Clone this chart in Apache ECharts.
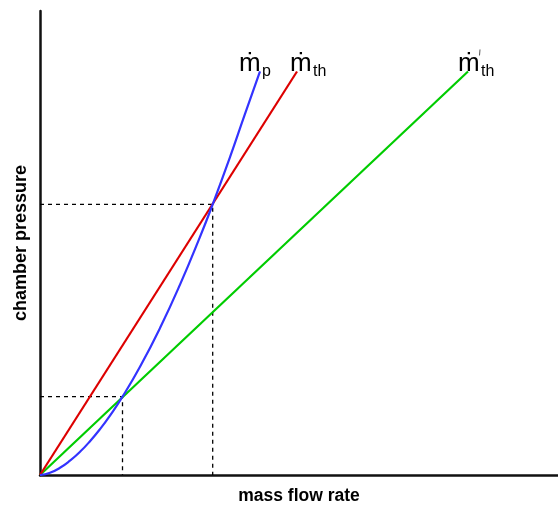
<!DOCTYPE html>
<html>
<head>
<meta charset="utf-8">
<script src="https://cdn.jsdelivr.net/npm/echarts@6/dist/echarts.min.js"></script>
<style>
  html, body { margin: 0; padding: 0; background: #fff; }
  #chart { width: 558px; height: 510px; }
</style>
</head>
<body>
<div id="chart"></div>
<script>
// Mass flow rate vs chamber pressure (arbitrary units)
const thrustLineA = [[0, 0], [257, 407]];          // m_th
const thrustLineB = [[0, 0], [428, 407]];          // m'_th
const propellantCurve = [                           // m_p
  [0, 0], [10, 2.3], [20, 7.3], [30, 14.5], [40, 23.4], [50, 34.1],
  [60, 46.3], [70, 60.0], [82.5, 79], [100, 109.1], [120, 148.2],
  [140, 192.0], [160, 240.2], [172.7, 273], [190, 320.6], [205, 364.2],
  [220, 407]
];
// Operating points (intersections)
const opHigh = [172.7, 273];
const opLow = [82.5, 79];

const axisNames = { x: 'mass flow rate', y: 'chamber pressure' };

const FONT = '"Liberation Sans", Arial, Helvetica, sans-serif';
const chart = echarts.init(document.getElementById('chart'));

function dashed(pt) {
  return {
    type: 'line',
    data: [[0, pt[1]], [pt[0], pt[1]], [pt[0], 0]],
    symbol: 'none',
    silent: true,
    z: 1,
    lineStyle: { color: '#000', width: 1.3, type: [4, 4] }
  };
}

chart.setOption({
  animation: false,
  grid: { left: 40, right: 0, top: 11, bottom: 31 },
  xAxis: {
    type: 'value', min: 0, max: 518,
    name: axisNames.x, nameLocation: 'middle', nameGap: 12,
    nameTextStyle: { fontFamily: FONT, fontWeight: 'bold', fontSize: 17.5, color: '#000' },
    axisLine: { show: true, lineStyle: { color: '#111', width: 2.5 } },
    axisTick: { show: false }, axisLabel: { show: false }, splitLine: { show: false }
  },
  yAxis: {
    type: 'value', min: 0, max: 468,
    name: axisNames.y, nameLocation: 'middle', nameGap: 10,
    nameTextStyle: { fontFamily: FONT, fontWeight: 'bold', fontSize: 18, color: '#000' },
    axisLine: { show: true, lineStyle: { color: '#111', width: 2.5 } },
    axisTick: { show: false }, axisLabel: { show: false }, splitLine: { show: false }
  },
  series: [
    dashed(opHigh),
    dashed(opLow),
    { type: 'line', data: thrustLineB, symbol: 'none', z: 3,
      lineStyle: { color: '#00cc00', width: 2.2 } },
    { type: 'line', data: thrustLineA, symbol: 'none', z: 4,
      lineStyle: { color: '#dd0000', width: 2.2 } },
    { type: 'line', data: propellantCurve, symbol: 'none', smooth: true, z: 5,
      lineStyle: { color: '#3333ff', width: 2.2 } }
  ]
});

// Curve labels placed next to each curve's end point
function labelAt(endPt, mDx, subDx, sub, prime) {
  const p = chart.convertToPixel({ gridIndex: 0 }, endPt);
  const els = [
    { type: 'text', x: p[0] + mDx, y: p[1] - 8,
      style: { text: '\u1E41', font: '26px ' + FONT, fill: '#000', verticalAlign: 'middle' } },
    { type: 'text', x: p[0] + subDx, y: p[1],
      style: { text: sub, font: '16px ' + FONT, fill: '#000', verticalAlign: 'middle' } }
  ];
  if (prime) {
    els.push({ type: 'line', silent: true,
      shape: { x1: p[0] + 12, y1: p[1] - 22, x2: p[0] + 11.5, y2: p[1] - 16 },
      style: { stroke: '#555', lineWidth: 1 } });
  }
  return els;
}

chart.setOption({
  graphic: [].concat(
    labelAt(propellantCurve[propellantCurve.length - 1], -21, 2, 'p', false),
    labelAt(thrustLineA[1], -7, 16, 'th', false),
    labelAt(thrustLineB[1], -10, 13, 'th', true)
  )
});
</script>
</body>
</html>
